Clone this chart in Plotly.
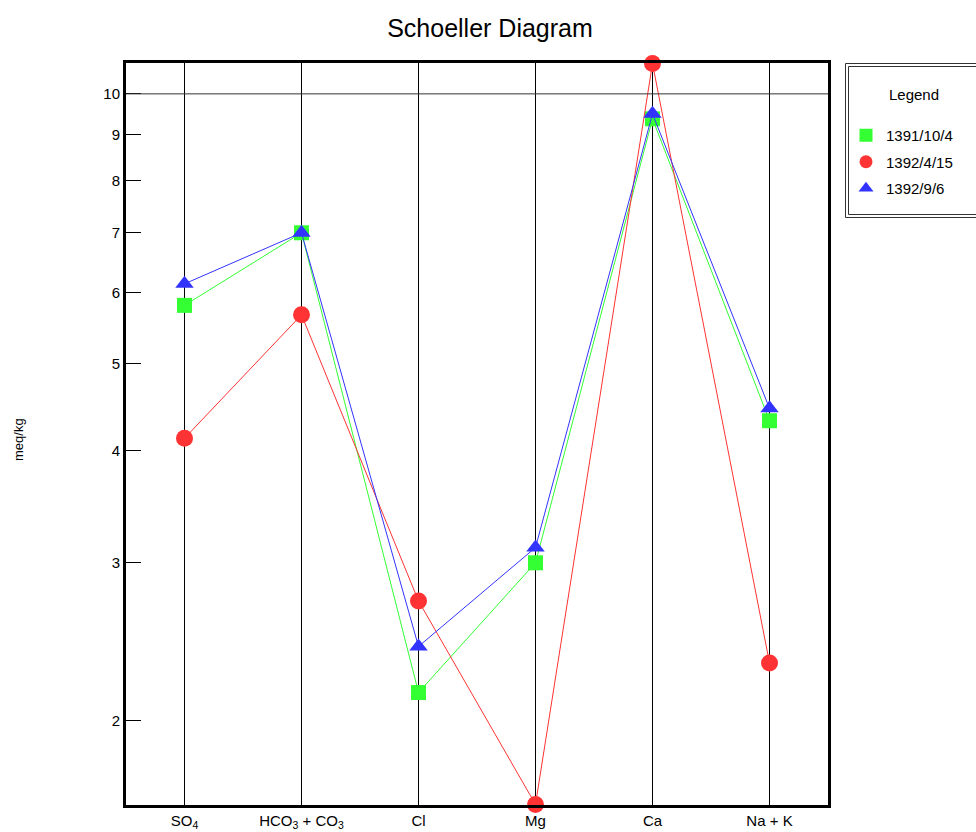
import plotly.graph_objects as go
import math

categories = ["SO4", "HCO3 + CO3", "Cl", "Mg", "Ca", "Na + K"]
tick_labels = ["SO<sub>4</sub>", "HCO<sub>3</sub> + CO<sub>3</sub>", "Cl", "Mg", "Ca", "Na + K"]

series_names = ["1391/10/4", "1392/4/15", "1392/9/6"]
s1391_10_4 = [5.81, 7.0, 2.15, 3.0, 9.38, 4.32]
s1392_4_15 = [4.13, 5.67, 2.72, 1.613, 10.81, 2.32]
s1392_9_6 = [6.14, 7.0, 2.42, 3.12, 9.5, 4.46]

y_ticks = [2, 3, 4, 5, 6, 7, 8, 9, 10]

colors = ["#33ff33", "#ff3333", "#3333ff"]
symbols = ["square", "circle", "triangle-up"]
sizes = [15, 17, 16]
series = [s1391_10_4, s1392_4_15, s1392_9_6]

FONT = "Liberation Sans, Arial, sans-serif"

xpos = list(range(len(categories)))
all_vals = s1391_10_4 + s1392_4_15 + s1392_9_6
ymin, ymax = min(all_vals), max(all_vals)

fig = go.Figure()
for name, vals, c, sym, sz in zip(series_names, series, colors, symbols, sizes):
    fig.add_trace(go.Scatter(
        x=xpos, y=vals, mode="lines+markers", name=name,
        line=dict(color=c, width=1),
        marker=dict(color=c, symbol=sym, size=sz),
        cliponaxis=False, showlegend=False,
    ))
for i, (name, c, sym) in enumerate(zip(series_names, colors, symbols)):
    fig.add_trace(go.Scatter(
        x=[None], y=[None], mode="markers", name=name,
        marker=dict(color=c, symbol=sym, size=13),
        showlegend=True, legendgroup=f"g{i}",
    ))

W, H = 976, 832
L, R, T, B = 126, 828, 63, 805

def px_x(p):
    return (p - L) / (R - L)

def px_y(p):
    return (B - p) / (B - T)

fig.update_layout(
    width=W, height=H,
    margin=dict(l=L, r=W - R, t=T, b=H - B, autoexpand=False),
    paper_bgcolor="white", plot_bgcolor="white",
    font=dict(family=FONT, color="black", size=15),
    title=dict(text="Schoeller Diagram", x=490 / W, xref="container", xanchor="center",
               y=1 - 28 / H, yref="container", yanchor="middle",
               font=dict(size=25, family=FONT, color="black")),
    xaxis=dict(
        range=[-0.5, 5.5], tickvals=xpos, ticktext=tick_labels,
        showgrid=True, gridcolor="black", gridwidth=1,
        showline=True, linecolor="black", linewidth=3, mirror=True,
        ticks="", zeroline=False, automargin=False,
        tickfont=dict(size=15, family=FONT),
    ),
    yaxis=dict(
        type="log", range=[math.log10(ymin) - 0.0006, math.log10(ymax) + 0.0006],
        tickvals=y_ticks, ticktext=[str(v) for v in y_ticks],
        showgrid=False, showline=True, linecolor="black", linewidth=3, mirror=True,
        ticks="inside", ticklen=15, tickcolor="black", tickwidth=1,
        zeroline=False, automargin=False, tickfont=dict(size=15, family=FONT),
    ),
    legend=dict(
        xref="container", yref="container",
        x=846 / W, y=1 - 119 / H, xanchor="left", yanchor="top",
        bgcolor="rgba(0,0,0,0)", borderwidth=0,
        font=dict(size=15, family=FONT), tracegroupgap=4,
    ),
    showlegend=True,
)

# horizontal reference line at 10
fig.add_shape(type="line", xref="paper", yref="y", x0=0, x1=1, y0=10, y1=10,
              line=dict(color="#333333", width=1))

# legend double border
fig.add_shape(type="rect", xref="paper", yref="paper",
              x0=px_x(845.5), x1=px_x(990), y0=px_y(63.5), y1=px_y(217.5),
              line=dict(color="#333333", width=1))
fig.add_shape(type="rect", xref="paper", yref="paper",
              x0=px_x(848.5), x1=px_x(986), y0=px_y(66.5), y1=px_y(214.5),
              line=dict(color="#333333", width=1))

fig.add_annotation(text="Legend", xref="paper", yref="paper", x=px_x(914), y=px_y(94),
                   showarrow=False, xanchor="center", yanchor="middle",
                   font=dict(size=15, family=FONT))
fig.add_annotation(text="meq/kg", xref="paper", yref="paper", x=px_x(18), y=px_y(440),
                   showarrow=False, textangle=-90, xanchor="center", yanchor="middle",
                   font=dict(size=13, family=FONT))

fig.write_html("out.html")
